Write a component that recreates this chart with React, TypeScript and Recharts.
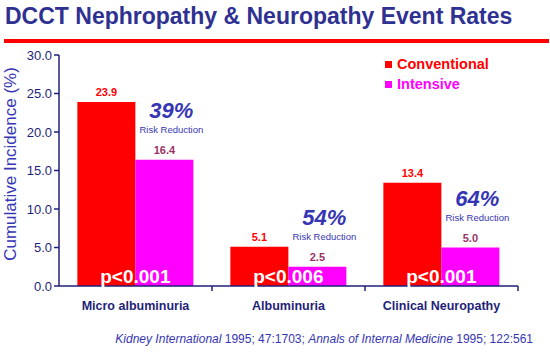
import { BarChart, Bar, XAxis, YAxis, LabelList } from 'recharts';

const categories = ['Micro albuminuria', 'Albuminuria', 'Clinical Neuropathy'];
const conventional = [23.9, 5.1, 13.4];
const intensive = [16.4, 2.5, 5.0];
const pValues = ['p<0.001', 'p<0.006', 'p<0.001'];
const riskReduction = ['39%', '54%', '64%'];
const yTicks = [0, 5, 10, 15, 20, 25, 30];

const FONT = '"Liberation Sans", Arial, sans-serif';
const NAVY = '#1f1f78';
const BLUE = '#3636b4';
const RED = '#ff0000';
const MAGENTA = '#ff00ff';

const W = 550;
const H = 354;
const PLOT_LEFT = 59;
const PLOT_RIGHT = 518;
const band = (PLOT_RIGHT - PLOT_LEFT) / categories.length;

const data = categories.map((name, i) => ({
  name,
  conventional: conventional[i],
  intensive: intensive[i],
  p: pValues[i],
  rr: riskReduction[i],
}));

const XTick = (props: any) => {
  const { x, y, payload } = props;
  return (
    <g>
      <line x1={x + band / 2} x2={x + band / 2} y1={y - 8} y2={y - 3} stroke={NAVY} strokeWidth={1.5} />
      <text x={x} y={y + 16} textAnchor="middle" fill={NAVY} fontSize={12.5} fontWeight="bold" fontFamily={FONT}>
        {payload.value}
      </text>
    </g>
  );
};

const PLabel = (props: any) => {
  const { x, width, index } = props;
  return (
    <text x={x + width} y={283} textAnchor="middle" fill="#fff" fontSize={19} fontWeight="bold" fontFamily={FONT}>
      {pValues[index]}
    </text>
  );
};

const RiskLabel = (props: any) => {
  const { x, y, width, index } = props;
  const cx = x + width / 2 + 7;
  const base = y - 30;
  return (
    <g fontFamily={FONT}>
      <text x={cx} y={base - 12} textAnchor="middle" fill={BLUE} fontSize={22} fontWeight="bold" fontStyle="italic">
        {riskReduction[index]}
      </text>
      <text x={cx} y={base + 3} textAnchor="middle" fill={BLUE} fontSize={9.5}>
        Risk Reduction
      </text>
    </g>
  );
};

const YLabel = () => (
  <text x={16} y={164} transform="rotate(-90 16 164)" textAnchor="middle" fill={BLUE} fontSize={17} fontFamily={FONT}>
    Cumulative Incidence (%)
  </text>
);

export default function App() {
  return (
    <div style={{ position: 'absolute', left: 0, top: 0, width: W, height: H, background: '#fff', fontFamily: FONT }}>
      <div style={{ position: 'absolute', left: 5, top: 3, fontSize: 23, fontWeight: 'bold', color: '#2e3192', whiteSpace: 'nowrap' }}>
        DCCT Nephropathy &amp; Neuropathy Event Rates
      </div>
      <div style={{ position: 'absolute', left: 4, top: 39, width: 545, height: 4, background: RED }} />

      <BarChart width={W} height={H} data={data} margin={{ top: 55, right: W - PLOT_RIGHT, bottom: 38, left: 0 }}
        barCategoryGap="12%" barGap={0}>
        <XAxis dataKey="name" height={30} tick={<XTick />} tickLine={false}
          axisLine={{ stroke: NAVY, strokeWidth: 1.5 }} interval={0} />
        <YAxis width={PLOT_LEFT} domain={[0, 30]} ticks={yTicks} interval={0}
          tickFormatter={(v: number) => v.toFixed(1)}
          tick={{ fill: NAVY, fontSize: 13, fontFamily: FONT }}
          tickLine={{ stroke: NAVY, strokeWidth: 1.5 }} tickSize={5}
          axisLine={{ stroke: NAVY, strokeWidth: 1.5 }}
          label={<YLabel />} />
        <Bar dataKey="conventional" fill={RED} isAnimationActive={false}>
          <LabelList dataKey="conventional" position="top" offset={6}
            formatter={(v: any) => Number(v).toFixed(1)}
            style={{ fill: RED, fontSize: 11, fontWeight: 'bold', fontFamily: FONT }} />
          <LabelList dataKey="p" content={<PLabel />} />
        </Bar>
        <Bar dataKey="intensive" fill={MAGENTA} isAnimationActive={false}>
          <LabelList dataKey="intensive" position="top" offset={6}
            formatter={(v: any) => Number(v).toFixed(1)}
            style={{ fill: '#993366', fontSize: 11, fontWeight: 'bold', fontFamily: FONT }} />
          <LabelList dataKey="rr" content={<RiskLabel />} />
        </Bar>
      </BarChart>

      <div style={{ position: 'absolute', left: 385, top: 54, fontSize: 14.5, fontWeight: 'bold', lineHeight: '20px' }}>
        <div style={{ color: RED, display: 'flex', alignItems: 'center' }}>
          <span style={{ width: 7, height: 7, background: RED, marginRight: 5, display: 'inline-block' }} />Conventional
        </div>
        <div style={{ color: MAGENTA, display: 'flex', alignItems: 'center' }}>
          <span style={{ width: 7, height: 7, background: MAGENTA, marginRight: 5, display: 'inline-block' }} />Intensive
        </div>
      </div>

      <div style={{ position: 'absolute', right: 17, top: 332, fontSize: 12, color: BLUE, whiteSpace: 'nowrap' }}>
        <i>Kidney International</i> 1995; 47:1703; <i>Annals of Internal Medicine</i> 1995; 122:561
      </div>
    </div>
  );
}
